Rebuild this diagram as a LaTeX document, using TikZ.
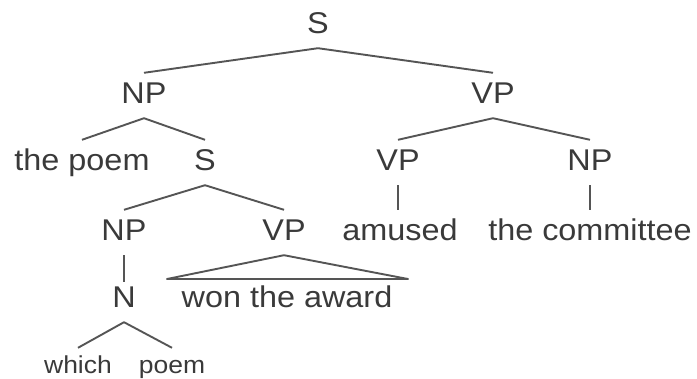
\documentclass[tikz,border=0pt]{standalone}
\usepackage{fontspec}
\setmainfont{Liberation Sans}[FakeStretch=1.08]
\definecolor{txtgray}{HTML}{3A3A3A}
\definecolor{linegray}{HTML}{555555}
\begin{document}
\begin{tikzpicture}[x=1pt,y=-1pt,
  lbl/.style={anchor=base, inner sep=0pt, text height=30pt, text depth=15pt,
    text=txtgray, font=\fontsize{30}{36}\selectfont},
  sm/.style={lbl, text height=25pt, font=\fontsize{24.5}{30}\selectfont},
  edge/.style={draw=linegray, line width=1.9pt, line join=round}]
\useasboundingbox (0,0) rectangle (697,378);
% row 1
\node[lbl] (S) at (318,33) {S};
% row 2
\node[lbl] (NP) at (144,103) {NP};
\node[lbl] (VP) at (493,103) {VP};
% row 3
\node[lbl] (poem1) at (82,170) {the poem};
\node[lbl] (S2) at (205,170) {S};
\node[lbl] (VP2) at (398,170) {VP};
\node[lbl] (NP2) at (590,170) {NP};
% row 4
\node[lbl] (NP3) at (124,240) {NP};
\node[lbl] (VP3) at (284,240) {VP};
\node[lbl] (amused) at (400,240) {amused};
\node[lbl] (comm) at (590,240) {the committee};
% row 5
\node[lbl, text height=25pt] (N) at (124,307) {N};
\node[lbl, text height=28pt] (won) at (287,307) {won the award};
% row 6
\node[sm] (which) at (78,373) {which};
\node[sm] (poem2) at (172,373) {poem};
% triangle corners
\coordinate (tl) at (167,279);
\coordinate (tr) at (408,279);
% connectors
\draw[edge] (NP.north) -- (S.south) -- (VP.north);
\draw[edge] (poem1.north) -- (NP.south) -- (S2.north);
\draw[edge] (VP2.north) -- (VP.south) -- (NP2.north);
\draw[edge] (NP3.north) -- (S2.south) -- (VP3.north);
\draw[edge] (VP2.south) -- (VP2.south |- amused.north);
\draw[edge] (NP2.south) -- (NP2.south |- comm.north);
\draw[edge] (NP3.south) -- (NP3.south |- N.north);
\draw[edge] (VP3.south) -- (tl) -- (tr) -- cycle;
\draw[edge] (which.north) -- (N.south) -- (poem2.north);
\end{tikzpicture}
\end{document}
